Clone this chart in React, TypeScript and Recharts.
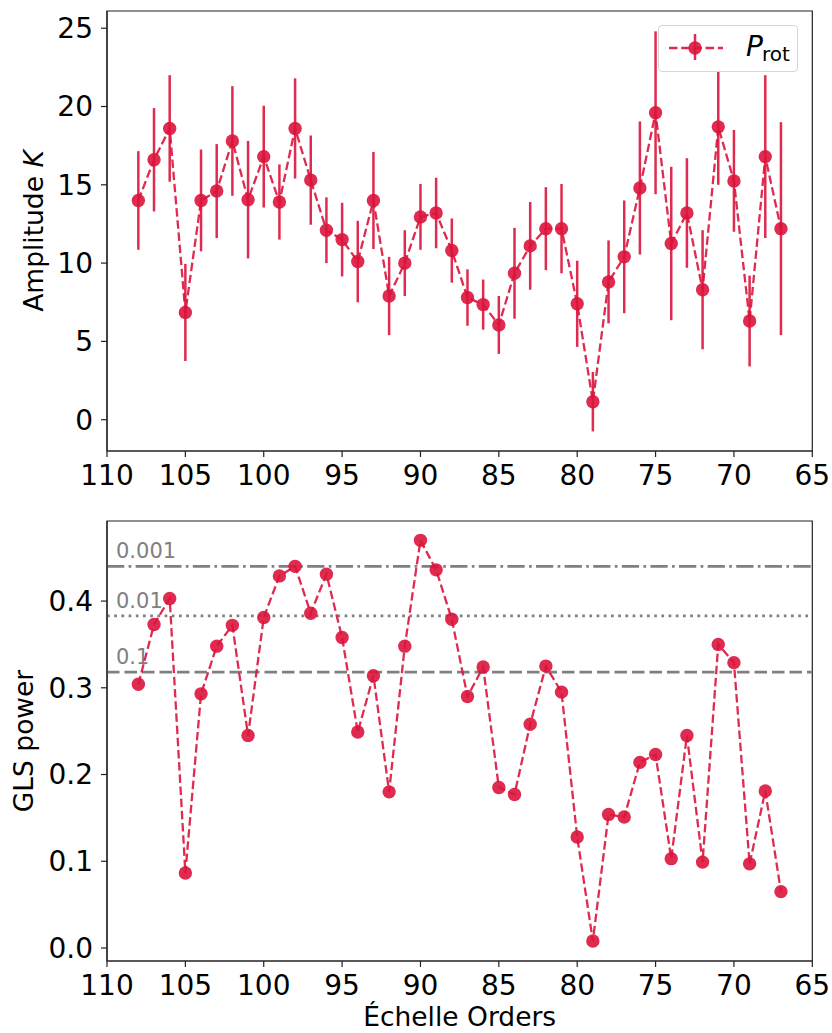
import React from "react";
import { LineChart, Line, XAxis, YAxis, ErrorBar, ReferenceLine, ReferenceArea } from "recharts";

// échelle orders, from 108 down to 67
const orders = [
  108, 107, 106, 105, 104, 103, 102, 101, 100, 99, 98, 97, 96, 95, 94, 93, 92, 91, 90, 89, 88,
  87, 86, 85, 84, 83, 82, 81, 80, 79, 78, 77, 76, 75, 74, 73, 72, 71, 70, 69, 68, 67,
];

// amplitude K per order and its 1-sigma error
const amplitude = [
  14.0, 16.6, 18.6, 6.85, 14.0, 14.6, 17.8, 14.05, 16.8, 13.9, 18.6, 15.3, 12.1, 11.5, 10.1, 14.0,
  7.9, 10.0, 12.95, 13.2, 10.8, 7.8, 7.35, 6.05, 9.35, 11.1, 12.2, 12.2, 7.4, 1.15, 8.8, 10.4, 14.8,
  19.6, 11.25, 13.2, 8.3, 18.7, 15.25, 6.3, 16.8, 12.2,
];
const amplitudeErr = [
  3.15, 3.3, 3.4, 3.1, 3.25, 3.0, 3.5, 3.75, 3.25, 2.4, 3.2, 2.85, 2.1, 2.35, 2.6, 3.1, 2.5, 2.1,
  2.1, 2.25, 2.05, 1.8, 1.6, 1.85, 2.9, 2.8, 2.65, 2.85, 2.75, 1.9, 2.65, 3.6, 4.25, 5.2, 4.9, 3.5,
  3.8, 3.7, 3.25, 2.9, 5.2, 6.8,
];

// GLS periodogram power at the rotation period
const glsPower = [
  0.304, 0.373, 0.403, 0.0865, 0.293, 0.348, 0.372, 0.245, 0.381, 0.429, 0.44, 0.386, 0.431, 0.358,
  0.249, 0.314, 0.18, 0.348, 0.47, 0.436, 0.379, 0.29, 0.324, 0.185, 0.177, 0.258, 0.325, 0.295,
  0.128, 0.008, 0.154, 0.151, 0.214, 0.223, 0.103, 0.245, 0.099, 0.35, 0.329, 0.097, 0.181, 0.065,
];

// false alarm probability levels
const fapLabels = ["0.001", "0.01", "0.1"];
const fapLevels = [0.44, 0.383, 0.318];
const fapDash = ["17.3 4.3 2.7 4.3", "2.7 4.5", "12.5 5"];

const xTicks = [110, 105, 100, 95, 90, 85, 80, 75, 70, 65];
const kTicks = [0, 5, 10, 15, 20, 25];
const glsTicks = [0, 0.1, 0.2, 0.3, 0.4];

const topData = orders.map((order, i) => ({ order, k: amplitude[i], err: amplitudeErr[i] }));
const bottomData = orders.map((order, i) => ({ order, power: glsPower[i] }));

const FONT = "DejaVu Sans";
const RED = "#DC143C";
const AXIS = "#222";
const DASH = "8.5 3.7";
const kDomain: [number, number] = [-2.0, 26.1];
const glsDomain: [number, number] = [-0.015, 0.4923];

const tickStyle = { fill: "#000", fontSize: 28, fontFamily: FONT };
const dotStyle = { r: 6.7, fill: RED, fillOpacity: 0.9, stroke: "none" };

const yTitle = (text: React.ReactNode, x: number) => (props: any) => {
  const vb = props.viewBox;
  const cy = vb.y + vb.height / 2;
  return (
    <text x={x} y={cy} transform={`rotate(-90, ${x}, ${cy})`} textAnchor="middle"
      fontSize={26.5} fontFamily={FONT} fill="#000">
      {text}
    </text>
  );
};

const Legend = () => (
  <div style={{ position: "absolute", left: 658, top: 25, width: 140, height: 47, boxSizing: "border-box",
    border: "1px solid #d6d6d6", borderRadius: 4, background: "#fff" }}>
    <svg width={140} height={47} style={{ position: "absolute", left: -1, top: -1 }}>
      <line x1={11} y1={23} x2={65} y2={23} stroke={RED} strokeOpacity={0.9} strokeWidth={2.3} strokeDasharray={DASH} />
      <line x1={37} y1={9} x2={37} y2={35} stroke={RED} strokeOpacity={0.9} strokeWidth={2.5} />
      <circle cx={37} cy={23} r={6.7} fill={RED} fillOpacity={0.9} />
      <text x={88} y={31} fontSize={28} fontStyle="italic" fontFamily={FONT} fill="#000">P</text>
      <text x={104} y={36} fontSize={20} fontFamily={FONT} fill="#000">rot</text>
    </svg>
  </div>
);

export default function App() {
  return (
    <div style={{ position: "absolute", left: 0, top: 0, width: 832, height: 1033, background: "#fff" }}>
      {/* top panel: amplitude with error bars */}
      <div style={{ position: "absolute", left: 0, top: 0 }}>
        <LineChart width={832} height={500} data={topData} margin={{ top: 11, right: 19.7, bottom: 0, left: 0 }}>
          <XAxis dataKey="order" type="number" domain={[65, 110]} reversed allowDataOverflow ticks={xTicks}
            interval={0} height={49} tick={tickStyle} tickSize={6} tickMargin={8}
            stroke={AXIS} strokeWidth={1.2} />
          <YAxis type="number" domain={kDomain} allowDataOverflow ticks={kTicks} interval={0} width={107}
            tick={tickStyle} tickSize={6} tickMargin={8} stroke={AXIS} strokeWidth={1.2}
            label={yTitle(<>Amplitude <tspan fontStyle="italic">K</tspan></>, 43)} />
          <ReferenceArea x1={65} x2={110} y1={kDomain[0]} y2={kDomain[1]} fill="none" stroke={AXIS} strokeWidth={1.2} />
          <Line dataKey="k" stroke={RED} strokeOpacity={0.9} strokeWidth={2.3} strokeDasharray={DASH}
            dot={dotStyle} activeDot={false} isAnimationActive={false}>
            <ErrorBar dataKey="err" width={0} stroke={RED} strokeOpacity={0.9} strokeWidth={2.5} direction="y" isAnimationActive={false} />
          </Line>
        </LineChart>
        <Legend />
      </div>

      {/* bottom panel: GLS power */}
      <div style={{ position: "absolute", left: 0, top: 500 }}>
        <LineChart width={832} height={533} data={bottomData} margin={{ top: 21, right: 19.7, bottom: 0, left: 0 }}>
          <XAxis dataKey="order" type="number" domain={[65, 110]} reversed allowDataOverflow ticks={xTicks}
            interval={0} height={72} tick={tickStyle} tickSize={6} tickMargin={8}
            stroke={AXIS} strokeWidth={1.2}
            label={(props: any) => (
              <text x={props.viewBox.x + props.viewBox.width / 2} y={props.viewBox.y + 65} textAnchor="middle"
                fontSize={26.5} fontFamily={FONT} fill="#000">Échelle Orders</text>
            )} />
          <YAxis type="number" domain={glsDomain} allowDataOverflow ticks={glsTicks} interval={0} width={107}
            tick={tickStyle} tickSize={6} tickMargin={8} stroke={AXIS} strokeWidth={1.2}
            tickFormatter={(v: number) => v.toFixed(1)}
            label={yTitle("GLS power", 33)} />
          <ReferenceArea x1={65} x2={110} y1={glsDomain[0]} y2={glsDomain[1]} fill="none" stroke={AXIS} strokeWidth={1.2} />
          {fapLevels.map((lvl, i) => (
            <ReferenceLine key={fapLabels[i]} y={lvl} stroke="#808080" strokeWidth={2.7} strokeDasharray={fapDash[i]}
              label={(props: any) => (
                <text x={props.viewBox.x + 9} y={props.viewBox.y - 8} fontSize={21} fontFamily={FONT} fill="#808080">
                  {fapLabels[i]}
                </text>
              )} />
          ))}
          <Line dataKey="power" stroke={RED} strokeOpacity={0.9} strokeWidth={2.3} strokeDasharray={DASH}
            dot={dotStyle} activeDot={false} isAnimationActive={false} />
        </LineChart>
      </div>
    </div>
  );
}
